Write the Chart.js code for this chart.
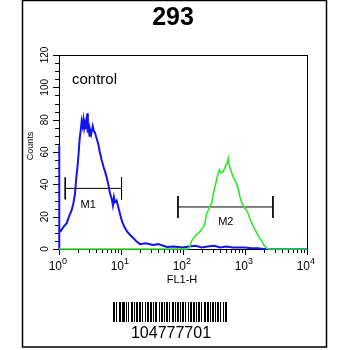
<!DOCTYPE html>
<html>
<head>
<meta charset="utf-8">
<script src="https://cdn.jsdelivr.net/npm/chart.js@4.4.1/dist/chart.umd.min.js"></script>
<style>
    html, body { margin: 0; padding: 0; background: #fff; }
    #wrap { width: 350px; height: 350px; }
</style>
</head>
<body>
<div id="wrap"><canvas id="histo" width="350" height="350"></canvas></div>
<script>
const chartTitle = '293';
const sampleLabel = 'control';
const barcodeText = '104777701';
const xAxisTitle = 'FL1-H';
const yAxisTitle = 'Counts';

// control (blue) histogram
const controlFl1 = [1, 1, 1.02, 1.06, 1.1, 1.2, 1.33, 1.45, 1.6, 1.7, 1.81, 1.9, 2.0, 2.05, 2.15, 2.25, 2.32, 2.4, 2.48,
    2.55, 2.63, 2.72, 2.8, 2.86, 2.92, 3.0, 3.1, 3.16, 3.3, 3.5, 3.65, 3.8, 4.0, 4.3, 4.55, 4.88, 5.2, 5.52, 5.9, 6.24,
    6.6, 7.08, 7.4, 7.7, 8.0, 8.5, 9.04, 9.6, 10.3, 11.2, 12.4, 13.8, 15.6, 17.5, 20.3, 25, 33, 40, 55, 70, 100, 125,
    160, 200, 250, 320, 400, 500, 630, 800, 1000, 1260, 1600, 2000, 10000];
const controlCounts = [0, 64, 11, 11, 12, 14, 16, 20, 24, 28, 34, 44, 52, 57, 68, 74, 79, 76, 80,
    75, 78, 74, 79, 84, 72, 77, 70, 74, 71, 76, 73, 72, 69, 65, 60, 55, 51, 48, 44, 40,
    35, 31, 27, 32, 29, 30, 26, 22, 17.5, 14, 11, 9, 7, 5, 3, 3.5, 2.5, 3, 1.2, 1.5, 1, 1.5,
    2, 1, 1.5, 2, 1, 1.5, 1, 1, 1, 0.5, 0.5, 0, 0];

// stained (green) histogram
const stainedFl1 = [1, 100, 121, 130, 138, 150, 166, 180, 199, 215, 226, 240, 257, 270, 288, 309, 325, 347, 365, 385,
    410, 447, 470, 490, 515, 537, 555, 575, 610, 646, 700, 741, 790, 832, 880, 933, 1000, 1096, 1190, 1288, 1400,
    1549, 1700, 1862, 2050, 2239, 2500, 10000];
const stainedCounts = [0, 0, 0, 2, 5, 7, 9, 10, 12, 14, 16, 22, 24, 26, 28, 34, 38, 42.5, 46, 49,
    47, 48, 50, 52, 53, 56, 52, 50, 47, 44.5, 42, 40, 36, 32, 29, 27, 25, 23, 19, 16, 13,
    10, 7, 5, 2, 0.5, 0, 0];

// marker gates: [low, high], level, bracket half height, label position
const m1Range = [1.26, 10.2];
const m1Level = 37.5;
const m1Label = [2.95, 27];
const m2Range = [83, 2820];
const m2Level = 26;
const m2Label = [490, 17];
const markerHalf = 6.8;

const yTickValues = [0, 20, 40, 60, 80, 100, 120];
const xDecades = [0, 1, 2, 3, 4];
const barcodeModules = '1101001101110101001101011011010010110110101100101101011010011010110101101001011011010110100110110101101011010010110';

const FONT = '"Liberation Sans", Arial, sans-serif';

function pts(xs, ys) {
    return xs.map((x, i) => ({ x: x, y: ys[i] }));
}

function bracket(range, level) {
    return [
        { x: range[0], y: level + markerHalf }, { x: range[0], y: level - markerHalf }, { x: range[0], y: null },
        { x: range[0], y: level }, { x: range[1], y: level }, { x: range[1], y: null },
        { x: range[1], y: level + markerHalf }, { x: range[1], y: level - markerHalf }
    ];
}

const facsDecor = {
    id: 'facsDecor',
    beforeDatasetsDraw(chart) {
        const ctx = chart.ctx;
        const a = chart.chartArea;
        const xs = chart.scales.x;
        const ys = chart.scales.y;
        ctx.save();
        ctx.strokeStyle = '#000';
        ctx.lineWidth = 1;
        ctx.strokeRect(a.left + 0.5, a.top + 0.5, a.right - a.left, a.bottom - a.top);
        // y ticks every 5, major every 20
        ctx.beginPath();
        for (let v = 0; v <= 120; v += 5) {
            const py = Math.round(ys.getPixelForValue(v)) + 0.5;
            const len = v % 20 === 0 ? 6 : 4;
            ctx.moveTo(a.left, py);
            ctx.lineTo(a.left - len, py);
        }
        // x log ticks
        for (let d = 0; d < 4; d++) {
            for (let k = 1; k <= 9; k++) {
                const px = Math.round(xs.getPixelForValue(k * Math.pow(10, d))) + 0.5;
                const len = k === 1 ? 6 : 4;
                ctx.moveTo(px, a.bottom);
                ctx.lineTo(px, a.bottom + len);
            }
        }
        const pEnd = Math.round(xs.getPixelForValue(10000)) + 0.5;
        ctx.moveTo(pEnd, a.bottom);
        ctx.lineTo(pEnd, a.bottom + 6);
        ctx.stroke();
        ctx.restore();
    },
    afterDraw(chart) {
        const ctx = chart.ctx;
        const xs = chart.scales.x;
        const ys = chart.scales.y;
        ctx.save();
        ctx.fillStyle = '#000';
        ctx.strokeStyle = '#000';
        // outer frame
        ctx.lineWidth = 1.5;
        ctx.strokeRect(22.5, 0.5, 304, 346.5);

        // title
        ctx.font = 'bold 25px ' + FONT;
        ctx.textAlign = 'center';
        ctx.textBaseline = 'alphabetic';
        ctx.fillText(chartTitle, 173, 25);

        // sample label
        ctx.font = '15px ' + FONT;
        ctx.textAlign = 'left';
        ctx.fillText(sampleLabel, 72, 84);

        // y tick labels (rotated)
        ctx.font = '10px ' + FONT;
        ctx.textAlign = 'center';
        ctx.textBaseline = 'middle';
        yTickValues.forEach(v => {
            ctx.save();
            ctx.translate(45, ys.getPixelForValue(v));
            ctx.rotate(-Math.PI / 2);
            ctx.fillText(String(v), 0, 0);
            ctx.restore();
        });
        ctx.save();
        ctx.font = '9px ' + FONT;
        ctx.translate(31, 146);
        ctx.rotate(-Math.PI / 2);
        ctx.fillText(yAxisTitle, 0, 0);
        ctx.restore();

        // x tick labels 10^n
        ctx.textBaseline = 'alphabetic';
        xDecades.forEach(d => {
            const px = xs.getPixelForValue(Math.pow(10, d));
            ctx.font = '12px ' + FONT;
            ctx.textAlign = 'right';
            ctx.fillText('10', px + 3, 270);
            ctx.font = '9px ' + FONT;
            ctx.textAlign = 'left';
            ctx.fillText(String(d), px + 3, 264);
        });
        ctx.font = '11px ' + FONT;
        ctx.textAlign = 'center';
        ctx.fillText(xAxisTitle, 182, 283);

        // marker labels
        ctx.font = '11px ' + FONT;
        ctx.textBaseline = 'middle';
        ctx.fillText('M1', xs.getPixelForValue(m1Label[0]), ys.getPixelForValue(m1Label[1]));
        ctx.fillText('M2', xs.getPixelForValue(m2Label[0]), ys.getPixelForValue(m2Label[1]));

        // barcode
        for (let i = 0; i < barcodeModules.length; i++) {
            if (barcodeModules[i] === '1') ctx.fillRect(113 + i, 302, 1, 20);
        }
        ctx.font = '16px ' + FONT;
        ctx.textBaseline = 'alphabetic';
        ctx.fillText(barcodeText, 171, 338);
        ctx.restore();
    }
};

const edgeClip = { left: 2, top: 0, right: 0, bottom: 2 };

new Chart(document.getElementById('histo'), {
    type: 'line',
    data: {
        datasets: [
            { label: 'stained', data: pts(stainedFl1, stainedCounts), borderColor: '#2ee82e', borderWidth: 1.6, clip: edgeClip },
            { label: 'control', data: pts(controlFl1, controlCounts), borderColor: '#1414ee', borderWidth: 2, clip: edgeClip },
            { label: 'M1', data: bracket(m1Range, m1Level), borderColor: '#000', borderWidth: 1, spanGaps: false },
            { label: 'M2', data: bracket(m2Range, m2Level), borderColor: '#000', borderWidth: 1, spanGaps: false }
        ]
    },
    options: {
        responsive: false,
        animation: false,
        layout: { padding: { left: 59, right: 43, top: 55, bottom: 101 } },
        elements: { point: { radius: 0 }, line: { tension: 0 } },
        plugins: { legend: { display: false }, tooltip: { enabled: false }, title: { display: false } },
        scales: {
            x: { type: 'logarithmic', min: 1, max: 10000, display: false },
            y: { type: 'linear', min: 0, max: 120, display: false }
        }
    },
    plugins: [facsDecor]
});
</script>
</body>
</html>
